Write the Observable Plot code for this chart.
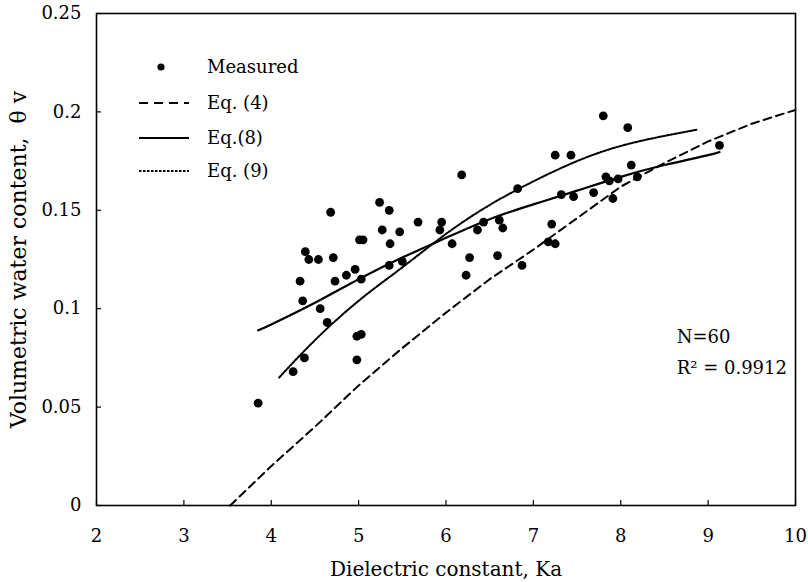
<!DOCTYPE html>
<html>
<head>
<meta charset="utf-8">
<script src="https://cdn.jsdelivr.net/npm/d3@7"></script>
<script src="https://cdn.jsdelivr.net/npm/@observablehq/plot@0.6"></script>
<style>
  html, body { margin: 0; padding: 0; background: #fff; }
  #wrap { position: relative; width: 808px; height: 582px; }
  #legend { position: absolute; left: 0; top: 0; }
  svg text { font-family: "DejaVu Serif", "Liberation Serif", serif; }
</style>
</head>
<body>
<div id="wrap"></div>
<script>
// Measured points
const measuredKa = [3.85, 4.25, 4.38, 4.36, 4.33, 4.39, 4.43, 4.54, 4.56, 4.64,
  4.68, 4.71, 4.73, 4.86, 4.96, 4.98, 5.03, 4.98, 5.03, 5.01,
  5.05, 5.24, 5.35, 5.27, 5.36, 5.35, 5.47, 5.50, 5.68, 5.95,
  5.93, 6.07, 6.18, 6.23, 6.27, 6.36, 6.43, 6.59, 6.61, 6.65,
  6.82, 6.87, 7.17, 7.25, 7.21, 7.25, 7.43, 7.32, 7.46, 7.69,
  7.80, 7.83, 7.87, 7.91, 7.97, 8.08, 8.12, 8.19, 9.13];
const measuredTheta = [0.052, 0.068, 0.075, 0.104, 0.114, 0.129, 0.125, 0.125, 0.100, 0.093,
  0.149, 0.126, 0.114, 0.117, 0.120, 0.086, 0.087, 0.074, 0.115, 0.135,
  0.135, 0.154, 0.150, 0.140, 0.133, 0.122, 0.139, 0.124, 0.144, 0.144,
  0.140, 0.133, 0.168, 0.117, 0.126, 0.140, 0.144, 0.127, 0.145, 0.141,
  0.161, 0.122, 0.134, 0.133, 0.143, 0.178, 0.178, 0.158, 0.157, 0.159,
  0.198, 0.167, 0.165, 0.156, 0.166, 0.192, 0.173, 0.167, 0.183];

// Eq. (4) curve
const eq4Ka = [3.53, 4.0, 4.5, 5.0, 5.5, 6.0, 6.5, 7.0, 7.5, 8.0, 8.5, 9.0, 9.5, 10.0];
const eq4Theta = [0.0, 0.020, 0.040, 0.061, 0.080, 0.098, 0.115, 0.130, 0.146, 0.162, 0.174, 0.185, 0.194, 0.201];

// Eq. (8) curve
const eq8Ka = [3.85, 4.0, 4.5, 5.0, 5.5, 6.0, 6.5, 7.0, 7.5, 8.0, 8.5, 9.0, 9.13];
const eq8Theta = [0.089, 0.092, 0.103, 0.115, 0.126, 0.136, 0.1455, 0.153, 0.160, 0.167, 0.173, 0.178, 0.1796];

// Eq. (9) curve
const eq9Ka = [4.09, 4.5, 5.0, 5.5, 6.0, 6.5, 7.0, 7.5, 8.0, 8.5, 8.88];
const eq9Theta = [0.065, 0.084, 0.104, 0.121, 0.138, 0.1527, 0.1647, 0.175, 0.1827, 0.1878, 0.191];

const xTicks = [2, 3, 4, 5, 6, 7, 8, 9, 10];
const yTicks = [0, 0.05, 0.1, 0.15, 0.2, 0.25];
const yTickLabels = ["0", "0.05", "0.1", "0.15", "0.2", "0.25"];

const legendLabels = ["Measured", "Eq. (4)", "Eq.(8)", "Eq. (9)"];
const annotationLines = ["N=60", "R\u00B2 = 0.9912"];
const annotationKa = [8.64, 8.64];
const annotationTheta = [0.0855, 0.0698];

const measured = measuredKa.map((k, i) => ({ka: k, theta: measuredTheta[i]}));
const eq4 = eq4Ka.map((k, i) => ({ka: k, theta: eq4Theta[i]}));
const eq8 = eq8Ka.map((k, i) => ({ka: k, theta: eq8Theta[i]}));
const eq9 = eq9Ka.map((k, i) => ({ka: k, theta: eq9Theta[i]}));
const annotations = annotationLines.map((t, i) => ({text: t, ka: annotationKa[i], theta: annotationTheta[i]}));

const FONT = "DejaVu Serif";

const chart = Plot.plot({
  width: 808,
  height: 582,
  marginLeft: 96,
  marginRight: 13,
  marginTop: 13,
  marginBottom: 77,
  style: {fontFamily: FONT, fontSize: "17px", color: "#000", background: "#fff"},
  x: {domain: [2, 10]},
  y: {domain: [0, 0.25]},
  marks: [
    // inward tick marks
    Plot.axisX(xTicks, {tickSize: -5, tickFormat: () => "", strokeWidth: 1.2, label: null}),
    Plot.axisY(yTicks, {tickSize: -5, tickFormat: () => "", strokeWidth: 1.2, label: null}),
    // tick labels
    Plot.axisX(xTicks, {tickSize: 0, tickPadding: 24, fontSize: 18, tickFormat: d => String(d), label: null}),
    Plot.axisY(yTicks, {tickSize: 0, tickPadding: 15, fontSize: 18, tickFormat: (d, i) => yTickLabels[i], label: null}),
    // axis titles
    Plot.axisX([], {tickSize: 0, label: "Dielectric constant, Ka", labelAnchor: "center", labelOffset: 70, labelArrow: "none", fontSize: 20}),
    Plot.axisY([], {tickSize: 0, label: "Volumetric water content,  \u03B8 v", labelAnchor: "center", labelOffset: 86, labelArrow: "none", fontSize: 22}),
    Plot.line(eq4, {x: "ka", y: "theta", stroke: "#000", strokeWidth: 2, strokeDasharray: "8,5"}),
    Plot.line(eq8, {x: "ka", y: "theta", stroke: "#000", strokeWidth: 2.2, curve: "natural"}),
    Plot.line(eq9, {x: "ka", y: "theta", stroke: "#000", strokeWidth: 2, strokeDasharray: "2.5,1.5", curve: "natural"}),
    Plot.dot(measured, {x: "ka", y: "theta", r: 4.4, fill: "#000", stroke: "none"}),
    Plot.text(annotations, {x: "ka", y: "theta", text: "text", textAnchor: "start", fontSize: 18, fill: "#000"}),
    Plot.frame({stroke: "#000", strokeWidth: 1.6})
  ]
});

const wrap = document.getElementById("wrap");
wrap.appendChild(chart);

// Legend overlay
const lg = d3.select(wrap).append("svg")
  .attr("id", "legend")
  .attr("width", 808).attr("height", 582)
  .style("pointer-events", "none");
const rowY = [67, 103, 138, 171];
const lineStyles = [null, {dash: "9,6", w: 2}, {dash: null, w: 2.2}, {dash: "2.5,1.5", w: 2}];
legendLabels.forEach((lab, i) => {
  const y = rowY[i];
  if (i === 0) {
    lg.append("circle").attr("cx", 161).attr("cy", y).attr("r", 3.6).attr("fill", "#000");
  } else {
    const ln = lg.append("line").attr("x1", 139).attr("x2", 189).attr("y1", y).attr("y2", y)
      .attr("stroke", "#000").attr("stroke-width", lineStyles[i].w);
    if (lineStyles[i].dash) ln.attr("stroke-dasharray", lineStyles[i].dash);
  }
  lg.append("text").attr("x", 207).attr("y", y).attr("dy", "0.35em")
    .attr("font-family", FONT).attr("font-size", 18).attr("fill", "#000").text(lab);
});
</script>
</body>
</html>
